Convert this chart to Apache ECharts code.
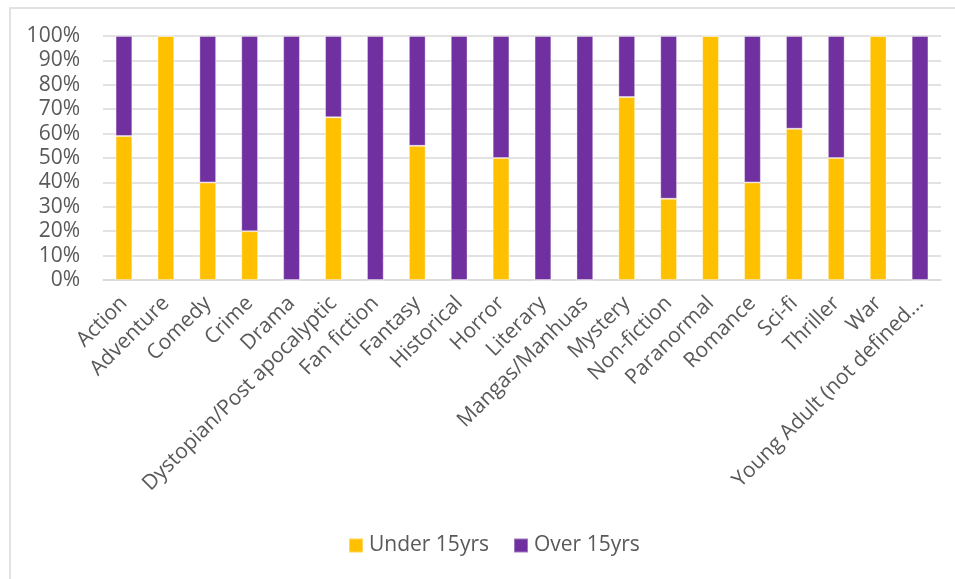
<!DOCTYPE html>
<html>
<head>
<meta charset="utf-8">
<script src="https://cdn.jsdelivr.net/npm/echarts@6/dist/echarts.min.js"></script>
<style>
  html, body { margin: 0; padding: 0; background: #ffffff; }
  #chart { width: 955px; height: 579px; }
</style>
</head>
<body>
<div id="chart"></div>
<script>
// Genres read by each age group, as a share of readers (percent)
const categories = [
  'Action', 'Adventure', 'Comedy', 'Crime', 'Drama',
  'Dystopian/Post apocalyptic', 'Fan fiction', 'Fantasy', 'Historical', 'Horror',
  'Literary', 'Mangas/Manhuas', 'Mystery', 'Non-fiction', 'Paranormal',
  'Romance', 'Sci-fi', 'Thriller', 'War', 'Young Adult (not defined...'
];
const under15 = [59, 100, 40, 20, 0, 66.7, 0, 55, 0, 50, 0, 0, 75, 33.3, 100, 40, 62, 50, 100, 0];
const over15  = [41, 0, 60, 80, 100, 33.3, 100, 45, 100, 50, 100, 100, 25, 66.7, 0, 60, 38, 50, 0, 100];
const yTicks = { min: 0, max: 100, step: 10 };

const FONT = '"Open Sans", sans-serif';
const TEXT = '#595959';
const GRID = '#d9d9d9';

const chart = echarts.init(document.getElementById('chart'), null, { renderer: 'canvas' });
chart.setOption({
  animation: false,
  backgroundColor: '#ffffff',
  graphic: [{
    type: 'rect',
    shape: { x: 10, y: 8, width: 1000, height: 700 },
    style: { fill: 'none', stroke: GRID, lineWidth: 1.5 },
    silent: true,
    z: -10
  }],
  grid: { left: 103, right: 14, top: 36, bottom: 299, containLabel: false },
  legend: {
    bottom: 18,
    left: 343,
    itemWidth: 14,
    itemHeight: 14,
    itemGap: 24,
    icon: 'rect',
    textStyle: { fontFamily: FONT, fontSize: 21, color: TEXT, padding: [0, 0, 0, 1] },
    data: ['Under 15yrs', 'Over 15yrs']
  },
  xAxis: {
    type: 'category',
    data: categories,
    axisLine: { show: true, lineStyle: { color: GRID, width: 1.5 } },
    axisTick: { show: false },
    axisLabel: {
      rotate: 45,
      interval: 0,
      margin: 20,
      fontFamily: FONT,
      fontSize: 21,
      color: TEXT
    }
  },
  yAxis: {
    type: 'value',
    min: yTicks.min,
    max: yTicks.max,
    interval: yTicks.step,
    axisLine: { show: false },
    axisTick: { show: false },
    splitLine: { lineStyle: { color: GRID, width: 1.5 } },
    axisLabel: {
      formatter: '{value}%',
      margin: 23,
      fontFamily: FONT,
      fontSize: 21,
      color: TEXT
    }
  },
  series: [
    {
      name: 'Under 15yrs',
      type: 'bar',
      stack: 'share',
      barWidth: '40%',
      data: under15,
      itemStyle: { color: '#ffc000', borderColor: 'rgba(255,255,255,0.35)', borderWidth: 1 }
    },
    {
      name: 'Over 15yrs',
      type: 'bar',
      stack: 'share',
      barWidth: '40%',
      data: over15,
      itemStyle: { color: '#7030a0', borderColor: 'rgba(255,255,255,0.35)', borderWidth: 1 }
    }
  ]
});
</script>
</body>
</html>
